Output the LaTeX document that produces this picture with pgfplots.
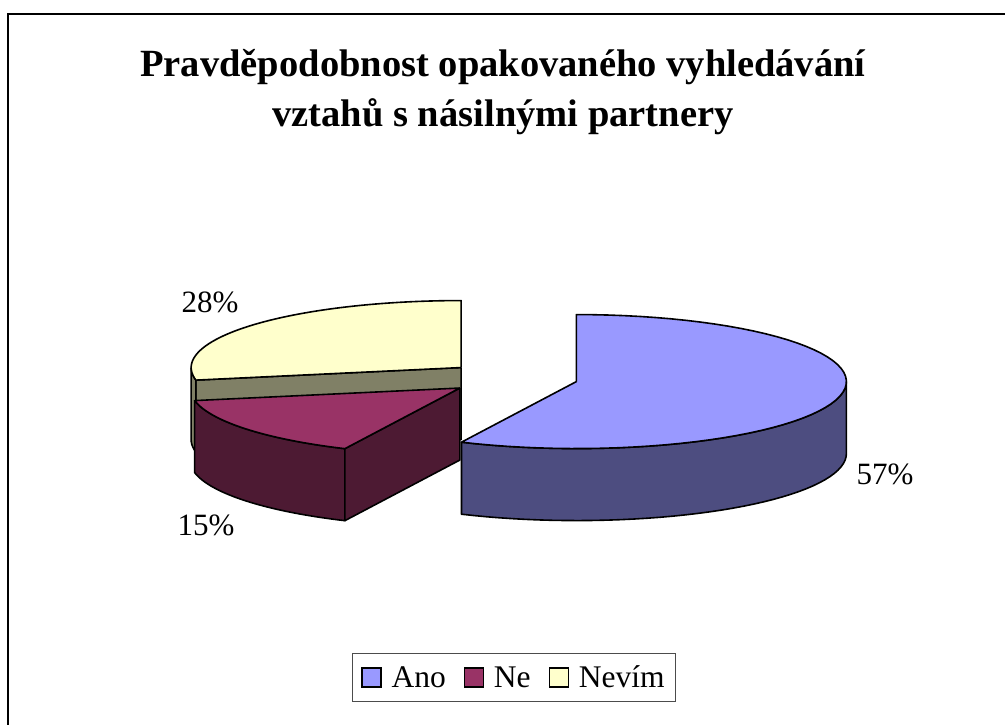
\documentclass[border=0pt]{standalone}
\usepackage{pgfplots}
\usepackage{pgfplotstable}
\pgfplotsset{compat=1.18}
\usepackage{fontspec}
\setmainfont{Liberation Serif}
\definecolor{anoTop}{HTML}{9999FF}
\definecolor{anoSide}{HTML}{4D4D80}
\definecolor{neTop}{HTML}{993366}
\definecolor{neSide}{HTML}{4D1A33}
\definecolor{nevTop}{HTML}{FFFFCC}
\definecolor{nevSide}{HTML}{808066}

\pgfplotstableread{
label value
Ano 57
Ne 15
Nevim 28
}\piedata

% geometry (pixels of the reference)
\def\Xo{512}\def\Yo{378}\def\ra{270}\def\rb{67}\def\dep{72}\def\ex{66}

% top face: cx cy t1 t2 colour
\newcommand\sliceTop[5]{%
 \addplot[fill=#5, draw=black, line width=1.6pt, line join=round, samples at={-1,0,...,60,61}, forget plot]
  ({(\x<0||\x>60) ? #1 : #1+\ra*cos((#3)+((#4)-(#3))*\x/60)},
   {(\x<0||\x>60) ? #2 : #2-\rb*sin((#3)+((#4)-(#3))*\x/60)});
}
% rim band: cx cy t1 t2 colour
\newcommand\sliceRim[5]{%
 \addplot[fill=#5, draw=black, line width=1.6pt, line join=round, samples at={0,1,...,82}, forget plot]
  ({#1+\ra*cos(\x<=40 ? (#3)+((#4)-(#3))*\x/40 : (\x<=81 ? (#4)-((#4)-(#3))*(\x-41)/40 : (#3)))},
   {#2-\rb*sin(\x<=40 ? (#3)+((#4)-(#3))*\x/40 : (\x<=81 ? (#4)-((#4)-(#3))*(\x-41)/40 : (#3))) + ((\x>40 && \x<82) ? \dep : 0)});
}
% radial face: cx cy t colour
\newcommand\sliceCut[4]{%
 \addplot[fill=#4, draw=black, line width=1.6pt, line join=round, samples at={0,1,2,3,4}, forget plot]
  ({#1+\ra*cos(#3)*((\x==1||\x==2) ? 1 : 0)},
   {#2-\rb*sin(#3)*((\x==1||\x==2) ? 1 : 0)+((\x==2||\x==3) ? \dep : 0)});
}

\begin{document}
\begin{tikzpicture}
\pgfplotstablegetelem{0}{value}\of\piedata \edef\vA{\pgfplotsretval}
\pgfplotstablegetelem{1}{value}\of\piedata \edef\vB{\pgfplotsretval}
\pgfplotstablegetelem{2}{value}\of\piedata \edef\vC{\pgfplotsretval}
\pgfmathsetmacro\aS{90}
\pgfmathsetmacro\aE{90-3.6*\vA}
\pgfmathsetmacro\bE{\aE-3.6*\vB}
\pgfmathsetmacro\cE{\bE-3.6*\vC}
\pgfmathsetmacro\mA{(\aS+\aE)/2}
\pgfmathsetmacro\mB{(\aE+\bE)/2}
\pgfmathsetmacro\mC{(\bE+\cE)/2}
\pgfmathsetmacro\cxA{\Xo+\ex*cos(\mA)}\pgfmathsetmacro\cyA{\Yo-\ex*\rb/\ra*sin(\mA)}
\pgfmathsetmacro\cxB{\Xo+\ex*cos(\mB)}\pgfmathsetmacro\cyB{\Yo-\ex*\rb/\ra*sin(\mB)}
\pgfmathsetmacro\cxC{\Xo+\ex*cos(\mC)}\pgfmathsetmacro\cyC{\Yo-\ex*\rb/\ra*sin(\mC)}
\begin{axis}[
  width=1005pt, height=725pt, scale only axis,
  xmin=0, xmax=1005, ymin=0, ymax=725, y dir=reverse,
  axis lines=none, clip=false, no markers,
  legend style={at={(axis cs:514,677.5)}, anchor=center, draw=black!70, line width=0.9pt,
    font=\fontsize{31.5}{36}\selectfont, legend columns=-1, inner xsep=9pt, inner ysep=10.5pt,
    /tikz/every odd column/.append style={column sep=8pt},
    /tikz/every even column/.append style={column sep=16pt}},
  legend image code/.code={\draw[#1,draw=black,line width=1.2pt] (0pt,-9.5pt) rectangle (19pt,9.5pt);},
]
% Nevim (back)
\sliceCut{\cxC}{\cyC}{\bE}{nevSide}
\sliceRim{\cxC}{\cyC}{-180}{\bE}{nevSide}
\sliceTop{\cxC}{\cyC}{\bE}{\cE}{nevTop}
% Ne
\sliceRim{\cxB}{\cyB}{\bE}{\aE}{neSide}
\sliceCut{\cxB}{\cyB}{\aE}{neSide}
\sliceTop{\cxB}{\cyB}{\aE}{\bE}{neTop}
% Ano
\sliceRim{\cxA}{\cyA}{\aE}{0}{anoSide}
\sliceTop{\cxA}{\cyA}{\aS}{\aE}{anoTop}

\addlegendimage{fill=anoTop}\addlegendentry{Ano}
\addlegendimage{fill=neTop}\addlegendentry{Ne}
\addlegendimage{fill=nevTop}\addlegendentry{Nevím}

\node[font=\fontsize{31}{37}\selectfont] at (axis cs:885,474) {\vA\%};
\node[font=\fontsize{31}{37}\selectfont] at (axis cs:206,525) {\vB\%};
\node[font=\fontsize{31}{37}\selectfont] at (axis cs:210,302) {\vC\%};

\node[anchor=base, font=\bfseries\fontsize{38.5}{46}\selectfont] at (axis cs:503,77) {Pravděpodobnost opakovaného vyhledávání};
\node[anchor=base, font=\bfseries\fontsize{38.5}{46}\selectfont] at (axis cs:503,127) {vztahů s násilnými partnery};

\draw[line width=2pt] (axis cs:8.3,725) -- (axis cs:8.3,14) -- (axis cs:1005,14);
\end{axis}
\pgfresetboundingbox
\useasboundingbox (0,0) rectangle (1005pt,725pt);
\end{tikzpicture}
\end{document}
